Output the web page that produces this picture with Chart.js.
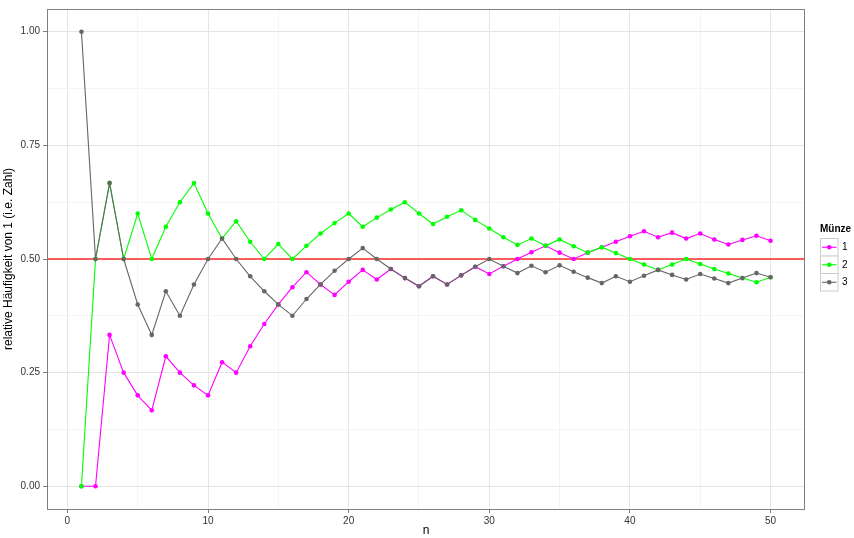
<!DOCTYPE html>
<html lang="de">
<head>
    <meta charset="UTF-8">
    <title>Relative Häufigkeit von 1</title>
    <script src="https://cdn.jsdelivr.net/npm/chart.js"></script>
    <style>
        body {
            margin: 0;
            padding: 0;
            background: #fff;
        }
        #wrap {
            width: 854px;
            height: 538px;
        }
    </style>
</head>
<body>
    <div id="wrap">
        <canvas id="chart" width="854" height="538"></canvas>
    </div>

    <script>
        // Wurfnummer n
        const nValues = [1,2,3,4,5,6,7,8,9,10,11,12,13,14,15,16,17,18,19,20,21,22,23,24,25,
                         26,27,28,29,30,31,32,33,34,35,36,37,38,39,40,41,42,43,44,45,46,47,48,49,50];

        // relative Häufigkeit je Münze
        const muenze1 = [0,0,0.333,0.25,0.2,0.167,0.286,0.25,0.222,0.2,0.273,0.25,0.308,0.357,0.4,0.438,0.471,0.444,0.421,0.45,
                         0.476,0.455,0.478,0.458,0.44,0.462,0.444,0.464,0.483,0.467,0.484,0.5,0.515,0.529,0.514,0.5,0.514,0.526,0.538,0.55,
                         0.561,0.548,0.558,0.545,0.556,0.543,0.532,0.542,0.551,0.54];
        const muenze2 = [0,0.5,0.667,0.5,0.6,0.5,0.571,0.625,0.667,0.6,0.545,0.583,0.538,0.5,0.533,0.5,0.529,0.556,0.579,0.6,
                         0.571,0.591,0.609,0.625,0.6,0.577,0.593,0.607,0.586,0.567,0.548,0.531,0.545,0.529,0.543,0.528,0.514,0.526,0.513,0.5,
                         0.488,0.476,0.488,0.5,0.489,0.478,0.468,0.458,0.449,0.46];
        const muenze3 = [1,0.5,0.667,0.5,0.4,0.333,0.429,0.375,0.444,0.5,0.545,0.5,0.462,0.429,0.4,0.375,0.412,0.444,0.474,0.5,
                         0.524,0.5,0.478,0.458,0.44,0.462,0.444,0.464,0.483,0.5,0.484,0.469,0.485,0.471,0.486,0.472,0.459,0.447,0.462,0.45,
                         0.463,0.476,0.465,0.455,0.467,0.457,0.447,0.458,0.469,0.46];

        const seriesLabels = ['1', '2', '3'];
        const seriesColors = ['#ff00ff', '#00ff00', '#666666'];
        const refLevel = 0.5;

        // Achsen
        const xRange = [-1.45, 52.45];
        const yRange = [-0.05, 1.05];
        const xTicks = [0, 5, 10, 15, 20, 25, 30, 35, 40, 45, 50];
        const yTicks = [0, 0.125, 0.25, 0.375, 0.5, 0.625, 0.75, 0.875, 1];

        const FONT = "'Liberation Sans', Arial, sans-serif";

        function toPoints(ys) {
            return nValues.map((n, i) => ({ x: n, y: ys[i] }));
        }

        const allSeries = [muenze1, muenze2, muenze3];
        const datasets = allSeries.map((s, i) => ({
            label: seriesLabels[i],
            data: toPoints(s),
            showLine: true,
            borderColor: seriesColors[i],
            backgroundColor: seriesColors[i],
            borderWidth: 1.1,
            pointRadius: 2.3,
            pointBorderWidth: 0,
            pointHoverRadius: 2.3,
            order: 3 - i
        }));

        // rote Referenzlinie bei 0.5
        datasets.push({
            label: 'ref',
            data: [{ x: xRange[0], y: refLevel }, { x: xRange[1], y: refLevel }],
            showLine: true,
            borderColor: '#ff2a2a',
            borderWidth: 1.3,
            pointRadius: 0,
            order: 10
        });

        const isMajor = (v, step) => Math.abs(v / step - Math.round(v / step)) < 1e-6;

        // Rahmen um das Panel
        const panelBorder = {
            id: 'panelBorder',
            afterDraw(chart) {
                const { ctx, chartArea: a } = chart;
                ctx.save();
                ctx.strokeStyle = '#7f7f7f';
                ctx.lineWidth = 1;
                ctx.strokeRect(a.left + 0.5, a.top + 0.5, a.right - a.left - 1, a.bottom - a.top);
                ctx.restore();
            }
        };

        // Legende im ggplot-Stil
        const ggLegend = {
            id: 'ggLegend',
            afterDraw(chart) {
                const ctx = chart.ctx;
                const x0 = 820, y0 = 238, size = 17.5;
                ctx.save();
                ctx.textBaseline = 'middle';
                ctx.fillStyle = '#000';
                ctx.font = 'bold 10px ' + FONT;
                ctx.fillText('Münze', 820, 229);
                seriesLabels.forEach((lab, i) => {
                    const top = y0 + i * size;
                    ctx.fillStyle = '#fff';
                    ctx.fillRect(x0, top, size, size);
                    ctx.strokeStyle = '#cccccc';
                    ctx.lineWidth = 1;
                    ctx.strokeRect(x0 + 0.5, top + 0.5, size, size);
                    const cy = top + size / 2 + 0.5;
                    ctx.strokeStyle = seriesColors[i];
                    ctx.lineWidth = 1.1;
                    ctx.beginPath();
                    ctx.moveTo(x0 + 2, cy);
                    ctx.lineTo(x0 + size - 1, cy);
                    ctx.stroke();
                    ctx.fillStyle = seriesColors[i];
                    ctx.beginPath();
                    ctx.arc(x0 + size / 2 + 0.5, cy, 2.3, 0, Math.PI * 2);
                    ctx.fill();
                    ctx.fillStyle = '#000';
                    ctx.font = '10px ' + FONT;
                    ctx.fillText(lab, 842, cy);
                });
                ctx.restore();
            }
        };

        const config = {
            type: 'scatter',
            data: { datasets: datasets },
            options: {
                responsive: false,
                animation: false,
                devicePixelRatio: 1,
                layout: { padding: { top: 6, right: 49, left: 0, bottom: 0 } },
                plugins: {
                    legend: { display: false },
                    tooltip: { enabled: false }
                },
                scales: {
                    x: {
                        type: 'linear',
                        min: xRange[0],
                        max: xRange[1],
                        afterBuildTicks: (scale) => { scale.ticks = xTicks.map(v => ({ value: v })); },
                        afterFit: (scale) => { scale.height = 29; },
                        border: { display: false },
                        grid: {
                            color: (c) => isMajor(c.tick.value, 10) ? '#e5e5e5' : '#f4f4f4',
                            tickColor: (c) => isMajor(c.tick.value, 10) ? '#7f7f7f' : 'rgba(0,0,0,0)',
                            tickLength: 4,
                            lineWidth: 1
                        },
                        ticks: {
                            autoSkip: false,
                            maxRotation: 0,
                            padding: 2,
                            color: '#333',
                            font: { family: FONT, size: 10 },
                            callback: (v) => isMajor(v, 10) ? String(v) : ''
                        },
                        title: {
                            display: true,
                            text: 'n',
                            color: '#000',
                            padding: { top: 0, bottom: 0 },
                            font: { family: FONT, size: 12 }
                        }
                    },
                    y: {
                        type: 'linear',
                        min: yRange[0],
                        max: yRange[1],
                        afterBuildTicks: (scale) => { scale.ticks = yTicks.map(v => ({ value: v })); },
                        afterFit: (scale) => { scale.width = 47; },
                        border: { display: false },
                        grid: {
                            color: (c) => isMajor(c.tick.value, 0.25) ? '#e5e5e5' : '#f4f4f4',
                            tickColor: (c) => isMajor(c.tick.value, 0.25) ? '#7f7f7f' : 'rgba(0,0,0,0)',
                            tickLength: 4,
                            lineWidth: 1
                        },
                        ticks: {
                            autoSkip: false,
                            padding: 3,
                            color: '#333',
                            font: { family: FONT, size: 10 },
                            callback: (v) => isMajor(v, 0.25) ? v.toFixed(2) : ''
                        },
                        title: {
                            display: true,
                            text: 'relative Häufigkeit von 1 (i.e. Zahl)',
                            color: '#000',
                            padding: { top: 1, bottom: 0 },
                            font: { family: FONT, size: 12 }
                        }
                    }
                }
            },
            plugins: [panelBorder, ggLegend]
        };

        const ctx = document.getElementById('chart').getContext('2d');
        const chart = new Chart(ctx, config);
    </script>
</body>
</html>
